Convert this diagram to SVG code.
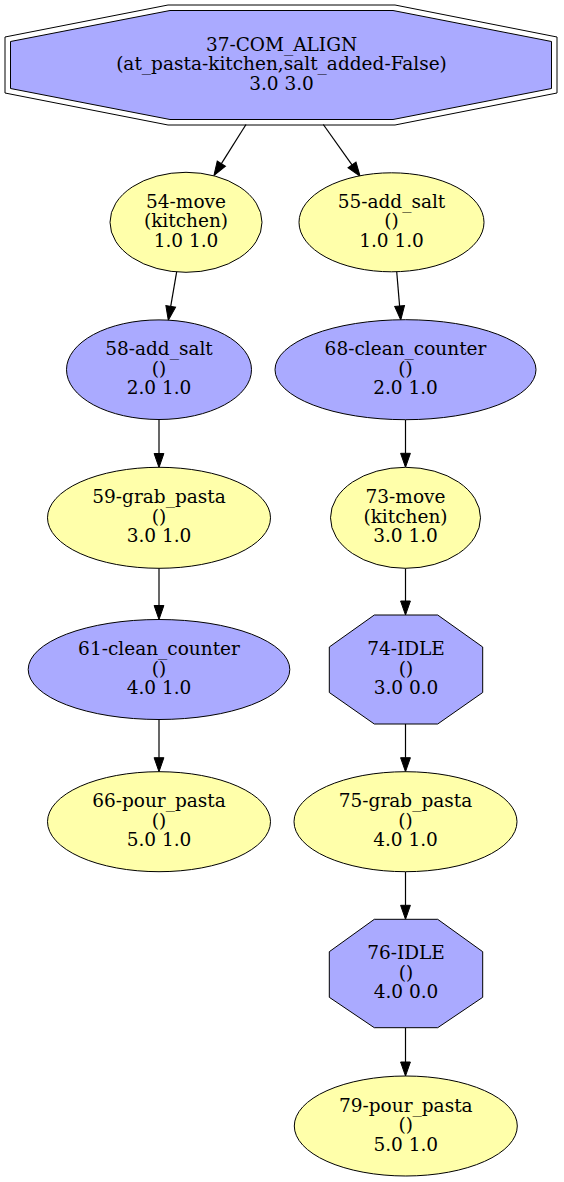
<svg xmlns="http://www.w3.org/2000/svg" width="564" height="1182" viewBox="0 0 564 1182">
<style>
text{font-family:"DejaVu Serif","Liberation Serif",serif;font-size:18.5px;text-anchor:middle;fill:#000}
.y{fill:#ffffaa;stroke:#000;stroke-width:1}
.b{fill:#aaaaff;stroke:#000;stroke-width:1}
.e{fill:none;stroke:#000;stroke-width:1.2}
</style>
<defs>
<marker id="ah" markerUnits="userSpaceOnUse" markerWidth="16" markerHeight="12" refX="0" refY="6" orient="auto" viewBox="0 0 16 12" overflow="visible">
<path d="M0,1.1 L14,6 L0,10.9 z" fill="#000" stroke="#000" stroke-width="1"/>
</marker>
</defs>
<rect width="564" height="1182" fill="#fff"/>
<g id="edges">
<path class="e" marker-end="url(#ah)" d="M246,124.5 L221.4,163.6"/>
<path class="e" marker-end="url(#ah)" d="M323.3,124.5 L352,164.9"/>
<path class="e" marker-end="url(#ah)" d="M176.7,271.7 L170.7,306.4"/>
<path class="e" marker-end="url(#ah)" d="M396.7,271.5 L399.6,306"/>
<path class="e" marker-end="url(#ah)" d="M159,419.5 L159,453.5"/>
<path class="e" marker-end="url(#ah)" d="M159,568.3 L159,605.5"/>
<path class="e" marker-end="url(#ah)" d="M159,719.5 L159,757.7"/>
<path class="e" marker-end="url(#ah)" d="M405.5,419.7 L405.5,453.3"/>
<path class="e" marker-end="url(#ah)" d="M405.5,568.3 L405.5,601"/>
<path class="e" marker-end="url(#ah)" d="M405.5,724 L405.5,757.7"/>
<path class="e" marker-end="url(#ah)" d="M405.5,871.7 L405.5,905.3"/>
<path class="e" marker-end="url(#ah)" d="M405.5,1027.7 L405.5,1062"/>
</g>
<g id="n37">
<polygon fill="none" stroke="#000" points="168,5 395,5 557,37 557,93 395,125 168,125 5,93 5,37"/>
<polygon class="b" points="170,10.5 393,10.5 551.5,41.5 551.5,88.5 393,119.5 170,119.5 10.5,88.5 10.5,41.5"/>
<text x="281.5" y="50.5">37-COM_ALIGN</text>
<text x="281.5" y="70">(at_pasta-kitchen,salt_added-False)</text>
<text x="281.5" y="89.5">3.0 3.0</text>
</g>
<g id="n54">
<ellipse class="y" cx="186" cy="222.3" rx="76" ry="50"/>
<text x="186" y="207.8">54-move</text>
<text x="186" y="227.3">(kitchen)</text>
<text x="186" y="246.8">1.0 1.0</text>
</g>
<g id="n55">
<ellipse class="y" cx="391.5" cy="222.3" rx="92.5" ry="49.5"/>
<text x="391.5" y="207.8">55-add_salt</text>
<text x="391.5" y="227.3">()</text>
<text x="391.5" y="246.8">1.0 1.0</text>
</g>
<g id="n58">
<ellipse class="b" cx="159" cy="369.7" rx="92.5" ry="49.8"/>
<text x="159" y="355.2">58-add_salt</text>
<text x="159" y="374.7">()</text>
<text x="159" y="394.2">2.0 1.0</text>
</g>
<g id="n68">
<ellipse class="b" cx="405.5" cy="369.7" rx="130.5" ry="50"/>
<text x="405.5" y="355.2">68-clean_counter</text>
<text x="405.5" y="374.7">()</text>
<text x="405.5" y="394.2">2.0 1.0</text>
</g>
<g id="n59">
<ellipse class="y" cx="159" cy="517.8" rx="111.5" ry="50.5"/>
<text x="159" y="503.3">59-grab_pasta</text>
<text x="159" y="522.8">()</text>
<text x="159" y="542.3">3.0 1.0</text>
</g>
<g id="n73">
<ellipse class="y" cx="405.5" cy="517.8" rx="75" ry="50.5"/>
<text x="405.5" y="503.3">73-move</text>
<text x="405.5" y="522.8">(kitchen)</text>
<text x="405.5" y="542.3">3.0 1.0</text>
</g>
<g id="n61">
<ellipse class="b" cx="159" cy="669.5" rx="130.8" ry="50"/>
<text x="159" y="655">61-clean_counter</text>
<text x="159" y="674.5">()</text>
<text x="159" y="694">4.0 1.0</text>
</g>
<g id="n74">
<polygon class="b" points="374.3,615 437.7,615 482.7,647 482.7,692.5 437.7,724 374.3,724 329.3,692.5 329.3,647"/>
<text x="406" y="655">74-IDLE</text>
<text x="406" y="674.5">()</text>
<text x="406" y="694">3.0 0.0</text>
</g>
<g id="n66">
<ellipse class="y" cx="159" cy="821.7" rx="111.5" ry="50"/>
<text x="159" y="807.2">66-pour_pasta</text>
<text x="159" y="826.7">()</text>
<text x="159" y="846.2">5.0 1.0</text>
</g>
<g id="n75">
<ellipse class="y" cx="405.5" cy="821.7" rx="111.5" ry="50"/>
<text x="405.5" y="807.2">75-grab_pasta</text>
<text x="405.5" y="826.7">()</text>
<text x="405.5" y="846.2">4.0 1.0</text>
</g>
<g id="n76">
<polygon class="b" points="374.3,919.3 437.7,919.3 482.7,951.7 482.7,997.3 437.7,1027.7 374.3,1027.7 329.3,997.3 329.3,951.7"/>
<text x="406" y="959">76-IDLE</text>
<text x="406" y="978.5">()</text>
<text x="406" y="998">4.0 0.0</text>
</g>
<g id="n79">
<ellipse class="y" cx="405.8" cy="1126" rx="111.5" ry="50"/>
<text x="405.8" y="1111.5">79-pour_pasta</text>
<text x="405.8" y="1131">()</text>
<text x="405.8" y="1150.5">5.0 1.0</text>
</g>
</svg>
